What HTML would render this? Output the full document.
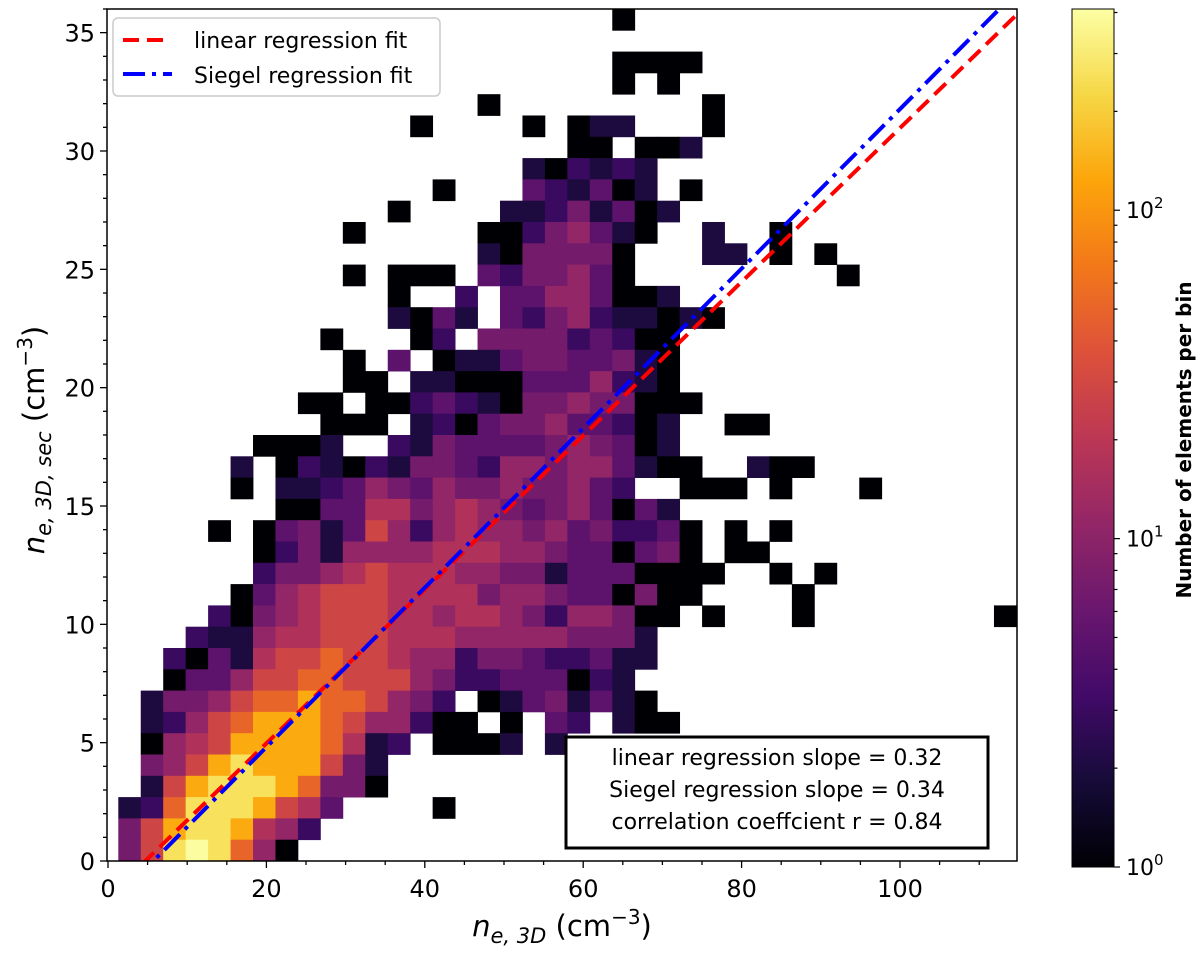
<!DOCTYPE html>
<html><head><meta charset="utf-8"><style>
html,body{margin:0;padding:0;background:#fff;}
svg text{font-family:"DejaVu Sans","Liberation Sans",sans-serif;}
</style></head>
<body>
<svg id="chart" width="1200" height="953" viewBox="0 0 1200 953" xmlns="http://www.w3.org/2000/svg">
<defs>
<linearGradient id="inferno" x1="0" y1="1" x2="0" y2="0">
<stop offset="0" stop-color="#000004"/><stop offset="0.1" stop-color="#160b39"/><stop offset="0.2" stop-color="#420a68"/><stop offset="0.3" stop-color="#6a176e"/><stop offset="0.4" stop-color="#932667"/><stop offset="0.5" stop-color="#bc3754"/><stop offset="0.6" stop-color="#dd513a"/><stop offset="0.7" stop-color="#f37819"/><stop offset="0.8" stop-color="#fca50a"/><stop offset="0.9" stop-color="#f6d746"/><stop offset="1" stop-color="#fcffa4"/>
</linearGradient>
<clipPath id="plotclip"><rect x="107" y="9" width="910" height="852"/></clipPath>
</defs>
<g id="cells" clip-path="url(#plotclip)"></g>
<g id="lines" clip-path="url(#plotclip)"></g>
<rect x="107" y="9" width="910" height="852" fill="none" stroke="#000" stroke-width="1.5"/>
<g id="axes"></g>

<g>
<rect x="113" y="18" width="327" height="78" rx="5" fill="#fff" fill-opacity="0.85" stroke="#ccc" stroke-width="1.5"/>
<line x1="123" y1="40" x2="170" y2="40" stroke="#ff0000" stroke-width="4" stroke-dasharray="16,8"/>
<text x="194" y="48" font-size="22">linear regression fit</text>
<line x1="123" y1="74" x2="172" y2="74" stroke="#0000ff" stroke-width="4" stroke-dasharray="22,7,4,7"/>
<text x="194" y="83" font-size="22">Siegel regression fit</text>
</g>

<g>
<rect x="566" y="737" width="422" height="111" fill="#fff" stroke="#000" stroke-width="3"/>
<text x="777" y="765" font-size="22" text-anchor="middle">linear regression slope = 0.32</text>
<text x="777" y="797" font-size="22" text-anchor="middle">Siegel regression slope = 0.34</text>
<text x="777" y="829" font-size="22" text-anchor="middle">correlation coeffcient r = 0.84</text>
</g>

<text x="562" y="936" font-size="29" text-anchor="middle"><tspan font-style="italic">n</tspan><tspan font-style="italic" font-size="21" dy="7">e, 3D</tspan><tspan dy="-7"> (cm</tspan><tspan font-size="20" dy="-12">−3</tspan><tspan dy="12">)</tspan></text>
<text transform="translate(44,440) rotate(-90)" font-size="29" text-anchor="middle"><tspan font-style="italic">n</tspan><tspan font-style="italic" font-size="21" dy="7">e, 3D, sec</tspan><tspan dy="-7"> (cm</tspan><tspan font-size="20" dy="-12">−3</tspan><tspan dy="12">)</tspan></text>

<g id="cbar">
<rect x="1072" y="9" width="42" height="858" fill="url(#inferno)" stroke="#000" stroke-width="1"/>
</g>
<text transform="translate(1191,440) rotate(-90)" font-size="20" font-weight="bold" text-anchor="middle">Number of elements per bin</text>

<script>
const levelCounts = [1, 2, 3, 5, 7, 11, 17, 28, 50, 130, 260, 400];
const binLevels = [
"......................0.................",
"........................................",
"......................0000..............",
"......................0.0...............",
"................0.........0.............",
".............0....0.011...0.............",
"....................00.001..............",
"..................102121................",
"..............0...321301.0..............",
"............0....11241301...............",
"..........0.....00245310..1..0..........",
"................1044440...11.0.0........",
"..........0.000.3244530.........0.......",
"............0..2.33553001...............",
"............1031.3245211010.............",
".........0...02.444423200...............",
"..........0.3.01134433410...............",
"..........00.110003335210...............",
"........00.002321044544000..............",
".........000.120344533201..00...........",
"......0001..2143333454301...............",
".....1.0210214432554553100..100.........",
".....0.1123543544544532..000.0...0......",
".......003366456543453031...............",
"....0.03413752565545342230.0.0..........",
"......02415555666554330340.00...........",
"......244567666554413330000..0.0........",
".....035677766664554330400....0.........",
"....204567776656654255400.0...0........0",
"...211566777666555554441................",
"..2031677877655244322311................",
"..033577887775422333021.................",
".14457889887542.01341310................",
".125789998755200.0.32.100...............",
".056799998612.0001.1....................",
".4579a999741............................",
".179aaa98440............................",
"128aaa9763....0.........................",
"479aa9652...............................",
"47aba850................................"
];
const xTicks = [0, 20, 40, 60, 80, 100];
const yTicks = [0, 5, 10, 15, 20, 25, 30, 35];
const cbarTicks = [1, 10, 100];
const cbarTickLabels = ["0", "1", "2"];
const linearFit = [0.325, -1.53];
const siegelFit = [0.337, -1.93];

const NS = "http://www.w3.org/2000/svg";
const X0 = 108, XPX = 7.92, Y0 = 861, YPX = 23.667;
const xScale = v => X0 + v * XPX;
const yScale = v => Y0 - v * YPX;
const xBinStart = 1.3, xBinW = 2.835, yBinH = 0.9;
const vmax = 410;
const cbTop = 9, cbBot = 867;
const cbScale = v => cbBot - Math.log10(v) / Math.log10(vmax) * (cbBot - cbTop);

const stops = [[0,0,4],[22,11,57],[66,10,104],[106,23,110],[147,38,103],[188,55,84],[221,81,58],[243,120,25],[252,165,10],[246,215,70],[252,255,164]];
function inferno(t){
  t = Math.max(0, Math.min(1, t)) * 10;
  const i = Math.min(9, Math.floor(t)), f = t - i;
  const a = stops[i], b = stops[i+1];
  return "rgb(" + [0,1,2].map(k => Math.round(a[k] + (b[k]-a[k]) * f)).join(",") + ")";
}
const codes = "0123456789ab";
const cells = document.getElementById("cells");
const nRows = binLevels.length;
binLevels.forEach((row, ri) => {
  const rowIdx = nRows - 1 - ri;
  for (let c = 0; c < row.length; c++) {
    const ch = row[c];
    if (ch === ".") continue;
    const count = levelCounts[codes.indexOf(ch)];
    const x1 = xScale(xBinStart + c * xBinW), x2 = xScale(xBinStart + (c + 1) * xBinW);
    const y1 = yScale((rowIdx + 1) * yBinH), y2 = yScale(rowIdx * yBinH);
    const r = document.createElementNS(NS, "rect");
    
    
    r.setAttribute("x", x1); r.setAttribute("y", y1);
    r.setAttribute("width", x2 - x1 + 0.4); r.setAttribute("height", y2 - y1 + 0.4);
    r.setAttribute("fill", inferno(Math.log10(count) / Math.log10(vmax)));
    cells.appendChild(r);
  }
});

const lines = document.getElementById("lines");
function fitLine(fit, color, dash, name){
  const xa = 0, xb = 120;
  const l = document.createElementNS(NS, "line");
  
  
  l.setAttribute("x1", xScale(xa)); l.setAttribute("y1", yScale(fit[0]*xa + fit[1]));
  l.setAttribute("x2", xScale(xb)); l.setAttribute("y2", yScale(fit[0]*xb + fit[1]));
  l.setAttribute("stroke", color); l.setAttribute("stroke-width", "4");
  l.setAttribute("stroke-dasharray", dash);
  lines.appendChild(l);
}
fitLine(linearFit, "#ff0000", "16,8", "linear-fit-line");
fitLine(siegelFit, "#0000ff", "22,7,4,7", "siegel-fit-line");

const axes = document.getElementById("axes");
function mk(tag, attrs, text){
  const e = document.createElementNS(NS, tag);
  for (const k in attrs) e.setAttribute(k, attrs[k]);
  if (text !== undefined) e.textContent = text;
  axes.appendChild(e); return e;
}
for (let v = 0; v <= 114; v += 5) {
  const major = v % 20 === 0;
  const t = mk("line", {x1: xScale(v), x2: xScale(v), y1: 861, y2: 861 + (major ? 7 : 4), stroke: "#000", "stroke-width": 1.3});
  
  
}
xTicks.forEach(v => {
  const t = mk("text", {x: xScale(v), y: 897, "font-size": 24, "text-anchor": "middle"}, String(v));
  
  
});
for (let v = 0; v <= 36; v += 1) {
  const major = v % 5 === 0;
  const t = mk("line", {x1: 107 - (major ? 7 : 4), x2: 107, y1: yScale(v), y2: yScale(v), stroke: "#000", "stroke-width": 1.3});
  
  
}
yTicks.forEach(v => {
  const t = mk("text", {x: 95, y: yScale(v) + 9, "font-size": 24, "text-anchor": "end"}, String(v));
  
  
});
for (let d = 1; d <= 100; d *= 10) {
  for (let m = 1; m <= 9; m++) {
    const v = d * m; if (v > vmax) break;
    const y = cbScale(v);
    const t = mk("line", {x1: 1114, x2: 1114 + (m === 1 ? 6 : 3.5), y1: y, y2: y, stroke: "#000", "stroke-width": 1.2});
    
    
  }
}
cbarTicks.forEach((v, i) => {
  const t = mk("text", {x: 1126, y: cbScale(v) + 8, "font-size": 22}, "10");
  
  
  const s = document.createElementNS(NS, "tspan");
  s.setAttribute("dy", "-10"); s.setAttribute("font-size", "15");
  s.textContent = cbarTickLabels[i];
  t.appendChild(s);
});
</script>
</svg>
</body></html>
